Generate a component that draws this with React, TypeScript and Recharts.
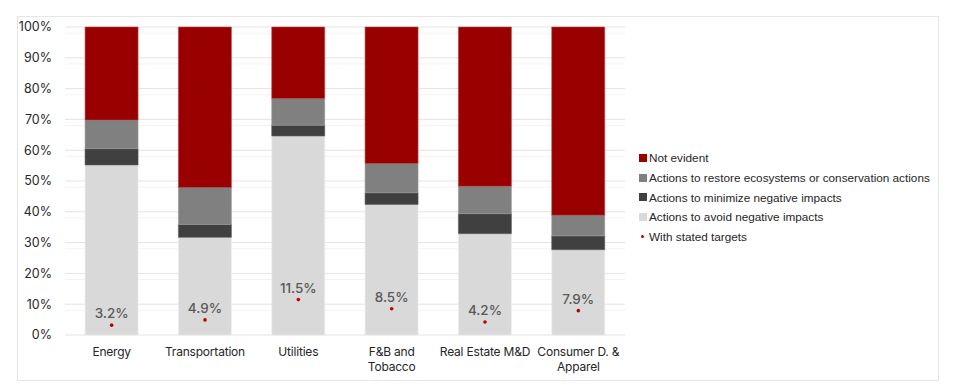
import React from "react";
import {
  ComposedChart,
  Bar,
  Line,
  XAxis,
  YAxis,
  CartesianGrid,
  LabelList,
} from "recharts";

const categories = [
  "Energy",
  "Transportation",
  "Utilities",
  "F&B and\nTobacco",
  "Real Estate M&D",
  "Consumer D. &\nApparel",
];
const avoidValues = [55.2, 31.7, 64.6, 42.4, 32.9, 27.7];
const minimizeValues = [5.3, 4.2, 3.5, 3.8, 6.5, 4.5];
const restoreValues = [9.3, 12.0, 8.7, 9.5, 8.9, 6.7];
const notEvidentValues = [30.2, 52.1, 23.2, 44.3, 51.7, 61.1];
const targetValues = [3.2, 4.9, 11.5, 8.5, 4.2, 7.9];
const yTicks = [0, 10, 20, 30, 40, 50, 60, 70, 80, 90, 100];
const minorTicks = [2, 4, 6, 8, 12, 14, 16, 18, 22, 24, 26, 28, 32, 34, 36, 38, 42, 44, 46, 48, 52, 54, 56, 58, 62, 64, 66, 68, 72, 74, 76, 78, 82, 84, 86, 88, 92, 94, 96, 98];

const seriesNames = {
  notEvident: "Not evident",
  restore: "Actions to restore ecosystems or conservation actions",
  minimize: "Actions to minimize negative impacts",
  avoid: "Actions to avoid negative impacts",
  target: "With stated targets",
};

const colors = {
  notEvident: "#990000",
  restore: "#808080",
  minimize: "#404040",
  avoid: "#d9d9d9",
  target: "#c00000",
};

const data = categories.map((c, i) => ({
  name: c,
  avoid: avoidValues[i],
  minimize: minimizeValues[i],
  restore: restoreValues[i],
  notEvident: notEvidentValues[i],
  target: targetValues[i],
}));

const AXIS_FONT = "Inter, 'DejaVu Sans', sans-serif";

const XTick = (props: any) => {
  const { x, y, payload } = props;
  const lines = String(payload.value).split("\n");
  return (
    <text x={x} y={y} textAnchor="middle" fill="#262626" fontSize={12} letterSpacing={-0.2} fontFamily={AXIS_FONT}>
      {lines.map((l, i) => (
        <tspan key={i} x={x} dy={i === 0 ? "0.71em" : 15}>
          {l}
        </tspan>
      ))}
    </text>
  );
};

const legendItems = [
  { key: "notEvident", type: "square" },
  { key: "restore", type: "square" },
  { key: "minimize", type: "square" },
  { key: "avoid", type: "square" },
  { key: "target", type: "dot" },
];

export default function App() {
  return (
    <div
      style={{
        position: "absolute",
        left: 17,
        top: 16,
        width: 920,
        height: 363,
        border: "1px solid #e6e6e6",
        background: "#fff",
      }}
    >
      <ComposedChart
        width={920}
        height={363}
        data={data}
        margin={{ top: 10, right: 313, left: 0, bottom: 5 }}
        barCategoryGap="21.5%"
      >
        <CartesianGrid
          vertical={false}
          stroke="#f3f3f3"
          horizontalValues={minorTicks}
        />
        <CartesianGrid vertical={false} stroke="#e3e3e3" />
        <XAxis
          dataKey="name"
          axisLine={false}
          tickLine={false}
          tickSize={0}
          tickMargin={12}
          height={40}
          interval={0}
          tick={<XTick />}
        />
        <YAxis
          width={47}
          domain={[0, 100]}
          ticks={yTicks}
          tickFormatter={(v: number) => `${v}%`}
          axisLine={false}
          tickLine={false}
          tickSize={0}
          tickMargin={13}
          tick={{ fill: "#262626", fontSize: 12.5, fontFamily: AXIS_FONT }}
        />
        <Bar dataKey="avoid" stackId="a" fill={colors.avoid} stroke="#ececec" strokeWidth={0.6} isAnimationActive={false} />
        <Bar dataKey="minimize" stackId="a" fill={colors.minimize} stroke="#5a5a5a" strokeWidth={0.6} isAnimationActive={false} />
        <Bar dataKey="restore" stackId="a" fill={colors.restore} stroke="#9a9a9a" strokeWidth={0.6} isAnimationActive={false} />
        <Bar dataKey="notEvident" stackId="a" fill={colors.notEvident} stroke="#b04a4a" strokeWidth={0.6} isAnimationActive={false} />
        <Line
          dataKey="target"
          stroke="none"
          isAnimationActive={false}
          dot={{ r: 1.8, fill: colors.target, stroke: "none" }}
          activeDot={false}
        >
          <LabelList
            dataKey="target"
            position="top"
            offset={7}
            formatter={(v: number) => `${v}%`}
            style={{ fill: "#595959", fontSize: 13.5, fontWeight: 500, fontFamily: AXIS_FONT }}
          />
        </Line>
      </ComposedChart>
      <div
        style={{
          position: "absolute",
          left: 619,
          top: 131,
          fontFamily: "'Liberation Sans', Arial, sans-serif",
          fontSize: 11.75,
          color: "#262626",
        }}
      >
        {legendItems.map((it) => (
          <div key={it.key} style={{ display: "flex", alignItems: "center", height: 19.7 }}>
            <div style={{ width: 11, display: "flex", justifyContent: "center", marginRight: 1 }}>
              {it.type === "square" ? (
                <div style={{ width: 8, height: 8, background: (colors as any)[it.key] }} />
              ) : (
                <div style={{ width: 3.5, height: 3.5, borderRadius: "50%", background: colors.target }} />
              )}
            </div>
            <span style={{ whiteSpace: "nowrap" }}>{(seriesNames as any)[it.key]}</span>
          </div>
        ))}
      </div>
    </div>
  );
}
